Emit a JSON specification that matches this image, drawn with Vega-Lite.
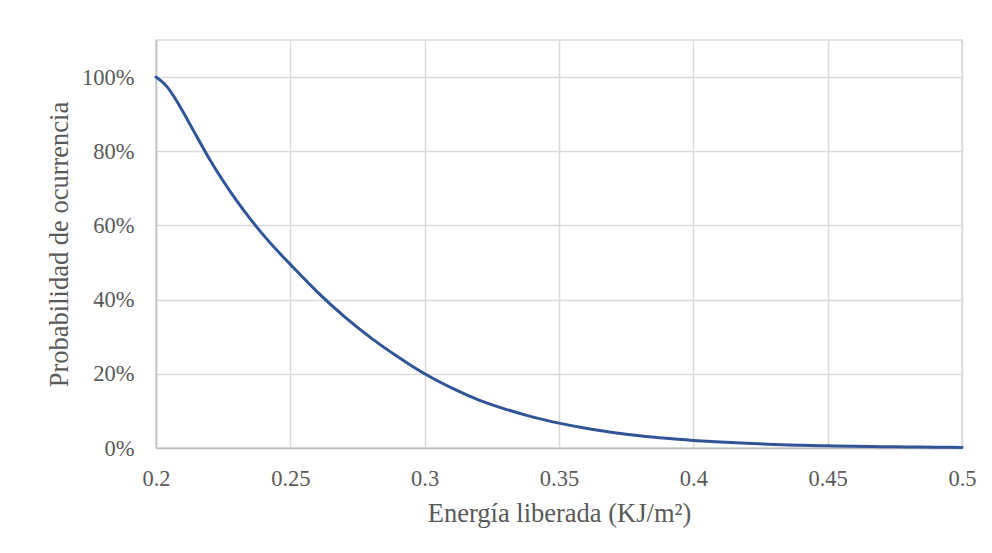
{
  "$schema": "https://vega.github.io/schema/vega-lite/v6.json",
  "autosize": "none",
  "width": 806,
  "height": 408,
  "padding": {"left": 156, "top": 40, "right": 30, "bottom": 105},
  "background": "white",
  "config": {
    "view": {"stroke": "#D9D9D9", "strokeWidth": 1.5},
    "font": "Liberation Serif",
    "axis": {
      "labelFont": "Liberation Serif",
      "titleFont": "Liberation Serif",
      "labelColor": "#595959",
      "titleColor": "#595959",
      "titleFontWeight": "normal",
      "gridColor": "#D9D9D9",
      "gridWidth": 1.5,
      "domainColor": "#BFBFBF",
      "domainWidth": 1.5,
      "ticks": false,
      "labelFlush": false,
      "labelOverlap": false
    }
  },
  "data": {
    "values": [
      {"e": 0.200, "p": 1.000},
      {"e": 0.202, "p": 0.989},
      {"e": 0.204, "p": 0.975},
      {"e": 0.206, "p": 0.955},
      {"e": 0.208, "p": 0.932},
      {"e": 0.210, "p": 0.907},
      {"e": 0.213, "p": 0.868},
      {"e": 0.216, "p": 0.829},
      {"e": 0.220, "p": 0.778},
      {"e": 0.225, "p": 0.720},
      {"e": 0.230, "p": 0.667},
      {"e": 0.235, "p": 0.6185},
      {"e": 0.240, "p": 0.574},
      {"e": 0.245, "p": 0.533},
      {"e": 0.250, "p": 0.495},
      {"e": 0.260, "p": 0.421},
      {"e": 0.270, "p": 0.355},
      {"e": 0.280, "p": 0.297},
      {"e": 0.290, "p": 0.246},
      {"e": 0.300, "p": 0.200},
      {"e": 0.310, "p": 0.162},
      {"e": 0.320, "p": 0.130},
      {"e": 0.330, "p": 0.105},
      {"e": 0.340, "p": 0.084},
      {"e": 0.350, "p": 0.067},
      {"e": 0.360, "p": 0.053},
      {"e": 0.370, "p": 0.042},
      {"e": 0.380, "p": 0.033},
      {"e": 0.390, "p": 0.026},
      {"e": 0.400, "p": 0.0205},
      {"e": 0.410, "p": 0.016},
      {"e": 0.420, "p": 0.0125},
      {"e": 0.430, "p": 0.0097},
      {"e": 0.440, "p": 0.0075},
      {"e": 0.450, "p": 0.0058},
      {"e": 0.460, "p": 0.0045},
      {"e": 0.470, "p": 0.0035},
      {"e": 0.480, "p": 0.0027},
      {"e": 0.490, "p": 0.0021},
      {"e": 0.500, "p": 0.0016}
    ]
  },
  "mark": {"type": "line", "color": "#2F5597", "strokeWidth": 3, "interpolate": "monotone", "strokeCap": "round"},
  "encoding": {
    "x": {
      "field": "e",
      "type": "quantitative",
      "scale": {"domain": [0.2, 0.5], "nice": false, "zero": false},
      "axis": {
        "values": [0.2, 0.25, 0.3, 0.35, 0.4, 0.45, 0.5],
        "format": "~g",
        "title": "Energía liberada (KJ/m²)",
        "labelFontSize": 22.5,
        "titleFontSize": 26.5,
        "labelPadding": 19,
        "titlePadding": 11
      }
    },
    "y": {
      "field": "p",
      "type": "quantitative",
      "scale": {"domain": [0, 1.1], "nice": false},
      "axis": {
        "values": [0, 0.2, 0.4, 0.6, 0.8, 1.0],
        "format": ".0%",
        "title": "Probabilidad de ocurrencia",
        "labelFontSize": 22.5,
        "titleFontSize": 26.5,
        "labelPadding": 22,
        "titlePadding": 8
      }
    }
  }
}
